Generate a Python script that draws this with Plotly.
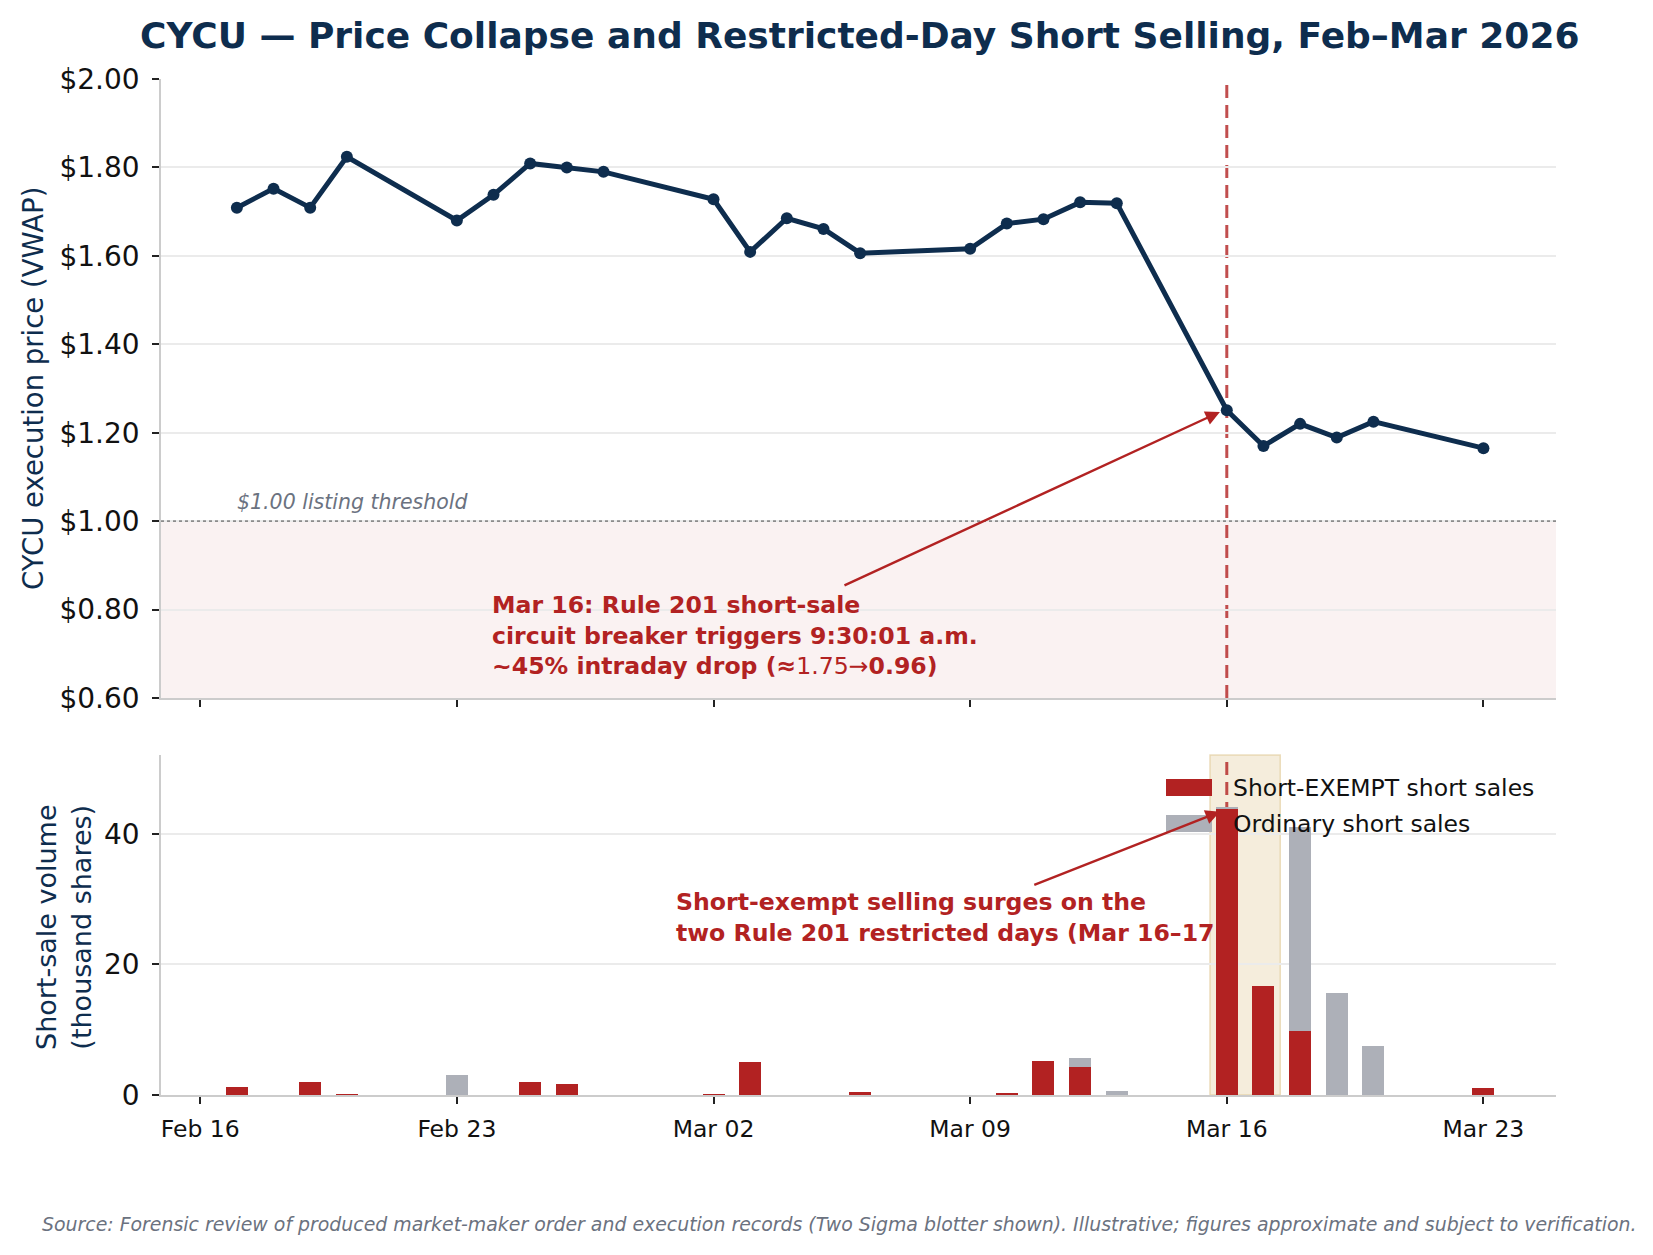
import plotly.graph_objects as go

# ---------------- data ----------------
trade_dates = [
    "2026-02-17", "2026-02-18", "2026-02-19", "2026-02-20",
    "2026-02-23", "2026-02-24", "2026-02-25", "2026-02-26", "2026-02-27",
    "2026-03-02", "2026-03-03", "2026-03-04", "2026-03-05", "2026-03-06",
    "2026-03-09", "2026-03-10", "2026-03-11", "2026-03-12", "2026-03-13",
    "2026-03-16", "2026-03-17", "2026-03-18", "2026-03-19", "2026-03-20",
    "2026-03-23",
]
vwap = [
    1.709, 1.752, 1.709, 1.824,
    1.680, 1.738, 1.809, 1.800, 1.790,
    1.728, 1.609, 1.685, 1.661, 1.606,
    1.616, 1.673, 1.683, 1.721, 1.719,
    1.251, 1.170, 1.220, 1.189, 1.225,
    1.165,
]
exempt_k = [
    1.2, 0.0, 2.0, 0.15,
    0.0, 0.0, 2.0, 1.7, 0.0,
    0.15, 5.0, 0.0, 0.0, 0.4,
    0.0, 0.3, 5.2, 4.3, 0.0,
    43.9, 16.7, 9.8, 0.0, 0.0,
    1.0,
]
ordinary_k = [
    0.0, 0.0, 0.0, 0.0,
    3.0, 0.0, 0.0, 0.0, 0.0,
    0.0, 0.0, 0.0, 0.0, 0.0,
    0.0, 0.0, 0.0, 1.3, 0.6,
    0.3, 0.0, 31.2, 15.6, 7.5,
    0.0,
]
series_names = ["Short-EXEMPT short sales", "Ordinary short sales"]
x_tick_vals = ["2026-02-16", "2026-02-23", "2026-03-02", "2026-03-09", "2026-03-16", "2026-03-23"]
x_tick_text = ["Feb 16", "Feb 23", "Mar 02", "Mar 09", "Mar 16", "Mar 23"]
price_tick_vals = [0.6, 0.8, 1.0, 1.2, 1.4, 1.6, 1.8, 2.0]
price_tick_text = ["$0.60", "$0.80", "$1.00", "$1.20", "$1.40", "$1.60", "$1.80", "$2.00"]
vol_tick_vals = [0, 20, 40]
vol_tick_text = ["0", "20", "40"]

# ---------------- styling ----------------
NAVY = "#0e2d4e"
RED = "#b22222"
GREY = "#adb0b8"
FONT = "DejaVu Sans"
W, H = 1653, 1255
X_RANGE = ["2026-02-14 22:20", "2026-03-24 23:30"]
BAR_W = 0.6 * 86400000
DASH = "13px,7px"

fig = go.Figure()

fig.add_trace(go.Scatter(
    x=trade_dates, y=vwap, mode="lines+markers",
    line=dict(color=NAVY, width=5),
    marker=dict(color=NAVY, size=12),
    showlegend=False, xaxis="x", yaxis="y",
))
fig.add_trace(go.Bar(
    x=trade_dates, y=exempt_k, width=[BAR_W] * len(trade_dates),
    marker=dict(color=RED, line=dict(width=0)),
    name=series_names[0], xaxis="x2", yaxis="y2", showlegend=False,
))
fig.add_trace(go.Bar(
    x=trade_dates, y=ordinary_k, width=[BAR_W] * len(trade_dates),
    marker=dict(color=GREY, line=dict(width=0)),
    name=series_names[1], xaxis="x2", yaxis="y2", showlegend=False,
))

axis_common = dict(
    showline=True, linecolor="#cccccc", linewidth=1.5,
    ticks="outside", ticklen=7, tickwidth=1.5, tickcolor="#222222",
    zeroline=False, automargin=False,
)

fig.update_layout(
    width=W, height=H,
    margin=dict(l=0, r=0, t=0, b=0),
    paper_bgcolor="white", plot_bgcolor="white",
    font=dict(family=FONT, color="#111111"),
    barmode="stack", bargap=0,
    showlegend=False,
    xaxis=dict(
        domain=[161 / W, 1556 / W], anchor="y", type="date",
        range=X_RANGE, tickvals=x_tick_vals, ticktext=x_tick_text,
        showticklabels=False, showgrid=False, **axis_common,
    ),
    yaxis=dict(
        domain=[1 - 698 / H, 1 - 79 / H], anchor="x",
        range=[0.6, 2.0], tickvals=price_tick_vals, ticktext=price_tick_text,
        tickfont=dict(size=28, color="#111111"),
        showgrid=True, gridcolor="#ebebeb", gridwidth=1.5,
        ticklabelstandoff=7,
        **axis_common,
    ),
    xaxis2=dict(
        domain=[161 / W, 1556 / W], anchor="y2", type="date",
        range=X_RANGE, tickvals=x_tick_vals, ticktext=x_tick_text,
        tickfont=dict(size=23.5, color="#111111"),
        showgrid=False, ticklabelstandoff=5, **axis_common,
    ),
    yaxis2=dict(
        domain=[1 - 1095 / H, 1 - 755 / H], anchor="x2",
        range=[0, 52.1], tickvals=vol_tick_vals, ticktext=vol_tick_text,
        tickfont=dict(size=28, color="#111111"),
        showgrid=True, gridcolor="#ebebeb", gridwidth=1.5,
        ticklabelstandoff=7,
        **axis_common,
    ),
)

shapes = [
    # sub-$1 shaded zone
    dict(type="rect", xref="x domain", yref="y", x0=0, x1=1, y0=0.6, y1=1.0,
         fillcolor="rgba(178,34,34,0.06)", line=dict(width=0), layer="below"),
    # $1 threshold dotted line
    dict(type="line", xref="x domain", yref="y", x0=0, x1=1, y0=1.0, y1=1.0,
         line=dict(color="#8c8c8c", width=1.6, dash="dot"), layer="above"),
    # Mar 16 dashed line (top)
    dict(type="line", xref="x", yref="y domain", x0="2026-03-16", x1="2026-03-16", y0=0, y1=1,
         line=dict(color="rgba(178,34,34,0.8)", width=3, dash=DASH), layer="below"),
    # restricted-days band (bottom)
    dict(type="rect", xref="x2", yref="y2 domain",
         x0="2026-03-15 13:00", x1="2026-03-17 11:00", y0=0, y1=1,
         fillcolor="rgba(222,196,140,0.30)", line=dict(color="rgba(222,196,140,0.55)", width=1.5),
         layer="below"),
    # Mar 16 dashed line (bottom)
    dict(type="line", xref="x2", yref="y2 domain", x0="2026-03-16", x1="2026-03-16", y0=0, y1=1,
         line=dict(color="rgba(178,34,34,0.8)", width=3, dash=DASH), layer="below"),
    # legend swatches
    dict(type="rect", xref="paper", yref="paper",
         x0=1166 / W, x1=1212 / W, y0=1 - 796 / H, y1=1 - 779 / H,
         fillcolor=RED, line=dict(width=0), layer="above"),
    dict(type="rect", xref="paper", yref="paper",
         x0=1166 / W, x1=1212 / W, y0=1 - 832 / H, y1=1 - 815 / H,
         fillcolor=GREY, line=dict(width=0), layer="above"),
]
fig.update_layout(shapes=shapes)

annotations = [
    # title
    dict(xref="paper", yref="paper", x=859 / W, y=1 - 36 / H, xanchor="center", yanchor="middle",
         text="<b>CYCU — Price Collapse and Restricted-Day Short Selling, Feb–Mar 2026</b>",
         showarrow=False, font=dict(family=FONT, size=36, color=NAVY)),
    # y-axis titles
    dict(xref="paper", yref="paper", x=33 / W, y=1 - 389 / H, xanchor="center", yanchor="middle",
         text="CYCU execution price (VWAP)", textangle=-90, showarrow=False,
         font=dict(family=FONT, size=27.5, color=NAVY)),
    dict(xref="paper", yref="paper", x=64 / W, y=1 - 927 / H, xanchor="center", yanchor="middle",
         text="Short-sale volume<br>(thousand shares)", textangle=-90, showarrow=False,
         font=dict(family=FONT, size=27, color=NAVY)),
    # threshold label
    dict(xref="x", yref="y", x="2026-02-16 23:00", y=1.043, xanchor="left", yanchor="middle",
         text="<i>$1.00 listing threshold</i>", showarrow=False,
         font=dict(family=FONT, size=20.5, color="#6b7280")),
    # top annotation text
    dict(xref="x", yref="y", x="2026-02-23 22:00", y=0.742, xanchor="left", yanchor="middle", align="left",
         text="<b>Mar 16: Rule 201 short-sale</b><br><b>circuit breaker triggers 9:30:01 a.m.</b><br>"
              "<b>~45% intraday drop (≈</b>1.75→<b>0.96)</b>",
         showarrow=False, font=dict(family=FONT, size=23.6, color=RED)),
    # top arrow
    dict(xref="x", yref="y", x="2026-03-15 19:30", y=1.247,
         axref="x", ayref="y", ax="2026-03-05 12:45", ay=0.853,
         text="", showarrow=True, arrowhead=2, arrowsize=1.2, arrowwidth=2.4, arrowcolor=RED,
         standoff=0, startstandoff=0),
    # bottom annotation text
    dict(xref="x2", yref="y2", x="2026-02-28 22:00", y=27.2, xanchor="left", yanchor="middle", align="left",
         text="<b>Short-exempt selling surges on the</b><br><b>two Rule 201 restricted days (Mar 16–17)</b>",
         showarrow=False, font=dict(family=FONT, size=23.6, color=RED)),
    # bottom arrow
    dict(xref="x2", yref="y2", x="2026-03-15 19:30", y=43.4,
         axref="x2", ayref="y2", ax="2026-03-10 17:00", ay=32.1,
         text="", showarrow=True, arrowhead=2, arrowsize=1.2, arrowwidth=2.4, arrowcolor=RED,
         standoff=0, startstandoff=0),
    # legend labels
    dict(xref="paper", yref="paper", x=1231 / W, y=1 - 788 / H, xanchor="left", yanchor="middle",
         text=series_names[0], showarrow=False, font=dict(family=FONT, size=23.5, color="#111111")),
    dict(xref="paper", yref="paper", x=1231 / W, y=1 - 824 / H, xanchor="left", yanchor="middle",
         text=series_names[1], showarrow=False, font=dict(family=FONT, size=23.5, color="#111111")),
    # footer
    dict(xref="paper", yref="paper", x=40 / W, y=1 - 1224 / H, xanchor="left", yanchor="middle",
         text="<i>Source: Forensic review of produced market-maker order and execution records "
              "(Two Sigma blotter shown). Illustrative; figures approximate and subject to verification.</i>",
         showarrow=False, font=dict(family=FONT, size=18.9, color="#6b7280")),
]
fig.update_layout(annotations=annotations)

fig.write_html("out.html")
